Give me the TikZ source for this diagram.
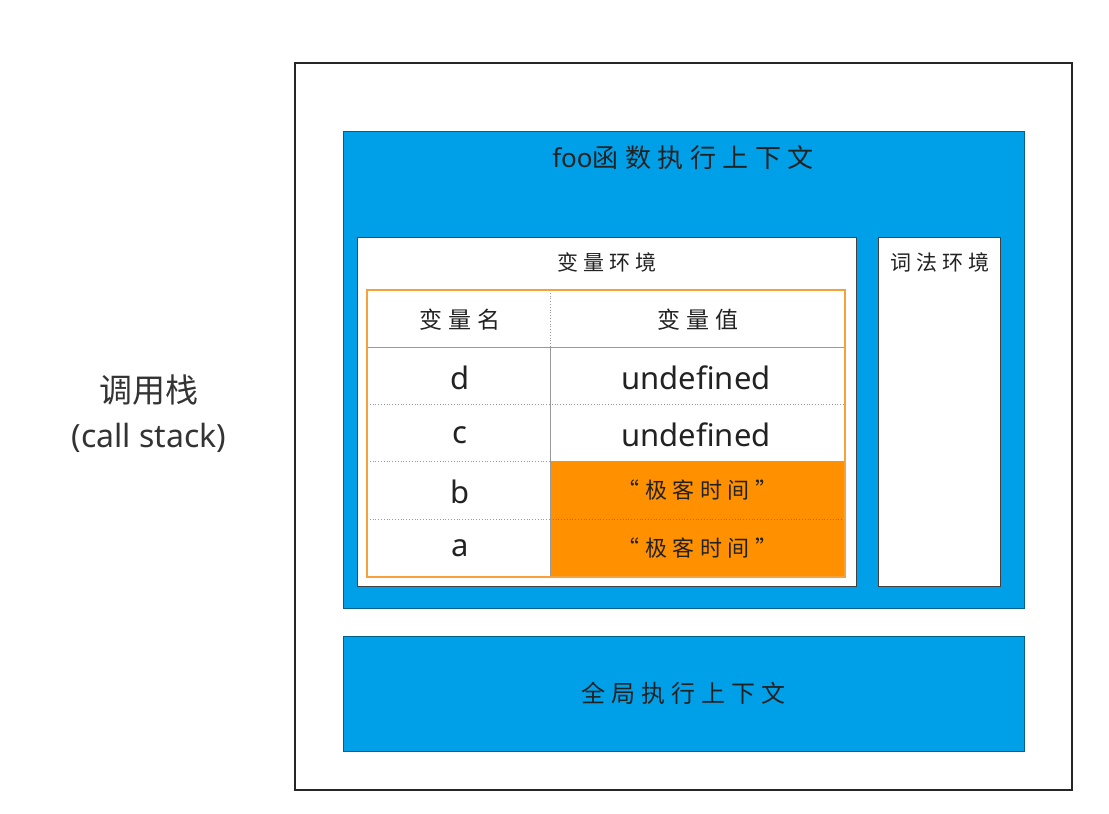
\documentclass[tikz,border=0pt]{standalone}
\usepackage{fontspec}
\setmainfont{Noto Sans}
\newfontfamily\cjk{Noto Sans CJK SC}
\newfontfamily\cjkls[LetterSpace=25]{Noto Sans CJK SC}
\definecolor{ctxblue}{HTML}{00A0E9}
\definecolor{valorange}{HTML}{FF9100}
\definecolor{tabborder}{HTML}{F5A23C}
\definecolor{txt}{HTML}{222222}
\definecolor{grid}{HTML}{9A9A9A}
\begin{document}
\begin{tikzpicture}[x=1pt,y=-1pt,
  box/.style={anchor=north west, inner sep=0pt, outer sep=0pt},
  bluebox/.style={box, fill=ctxblue, draw=ctxblue!60!black, line width=0.8pt},
  whitebox/.style={box, fill=white, draw=black!75, line width=0.8pt},
  hand/.style={text=txt, inner sep=0pt},
  latin/.style={text=txt, inner sep=0pt, font=\fontsize{31}{36}\selectfont},
  gridsolid/.style={draw=grid, line width=0.8pt},
  griddot/.style={draw=grid, line width=0.8pt, dotted}]
\useasboundingbox[fill=white] (0,0) rectangle (1109,814);

% call stack frame
\node[box, draw=black!85, line width=2.4pt, minimum width=777pt, minimum height=727pt] (stack) at (295,63) {};

% left label
\node[text=black!80, inner sep=0pt, font=\cjk\fontsize{33}{38}\selectfont] (lbl1) at (149,390) {调用栈};
\node[text=black!80, inner sep=0pt, font=\fontsize{32}{38}\selectfont] (lbl2) at (149,438) {(call stack)};

% foo execution context
\node[bluebox, minimum width=681pt, minimum height=477pt] (foo) at (343,131) {};
\node[hand, font=\cjkls\fontsize{26}{30}\selectfont] (footitle) at (683,158) {{\fontspec{Noto Sans}foo}函数执行上下文};

% variable environment
\node[whitebox, minimum width=499pt, minimum height=349pt] (varenv) at (357,237) {};
\node[hand, font=\cjkls\fontsize{21}{26}\selectfont] (vartitle) at (607,262) {变量环境};

% lexical environment
\node[whitebox, minimum width=122pt, minimum height=349pt] (lexenv) at (878,237) {};
\node[hand, font=\cjkls\fontsize{21}{26}\selectfont] (lextitle) at (940,262) {词法环境};

% orange value cells
\node[box, fill=valorange, minimum width=295pt, minimum height=58pt] (bval) at (550,461) {};
\node[box, fill=valorange, minimum width=295pt, minimum height=58pt] (aval) at (550,519) {};

% table grid
\coordinate (h0) at (367,347); \coordinate (h1) at (845,347);
\coordinate (r1a) at (367,404); \coordinate (r1b) at (845,404);
\coordinate (r2a) at (367,461); \coordinate (r2b) at (550,461);
\coordinate (r3a) at (367,519); \coordinate (r3b) at (550,519);
\coordinate (c0) at (550,290); \coordinate (c1) at (550,347); \coordinate (c2) at (550,577);
\draw[gridsolid] (h0) -- (h1);
\draw[griddot] (r1a) -- (r1b);
\draw[griddot] (r2a) -- (r2b);
\draw[griddot] (r3a) -- (r3b);
\draw[griddot, draw=valorange!75!black] (r3b) -- (aval.north east);
\draw[griddot] (c0) -- (c1);
\draw[gridsolid] (c1) -- (c2);

% table border
\node[box, draw=tabborder, line width=2.2pt, minimum width=478pt, minimum height=287pt] (table) at (367,290) {};

% header
\node[hand, font=\cjkls\fontsize{23}{28}\selectfont] (hname) at (460,320) {变量名};
\node[hand, font=\cjkls\fontsize{23}{28}\selectfont] (hval) at (698,320) {变量值};

% rows
\node[latin] (dname) at (460,378) {d};
\node[latin] (dval) at (696,378) {undefined};
\node[latin] (cname) at (460,435) {c};
\node[latin] (cval) at (696,435) {undefined};
\node[latin] (bname) at (460,492) {b};
\node[hand, font=\cjkls\fontsize{22}{26}\selectfont] (bvtext) at (bval.center) {“极客时间”};
\node[latin] (aname) at (460,548) {a};
\node[hand, font=\cjkls\fontsize{22}{26}\selectfont] (avtext) at (aval.center) {“极客时间”};

% global execution context
\node[bluebox, minimum width=681pt, minimum height=115pt] (global) at (343,636) {};
\node[hand, font=\cjkls\fontsize{24}{28}\selectfont] (globaltitle) at (global.center) {全局执行上下文};
\end{tikzpicture}
\end{document}
